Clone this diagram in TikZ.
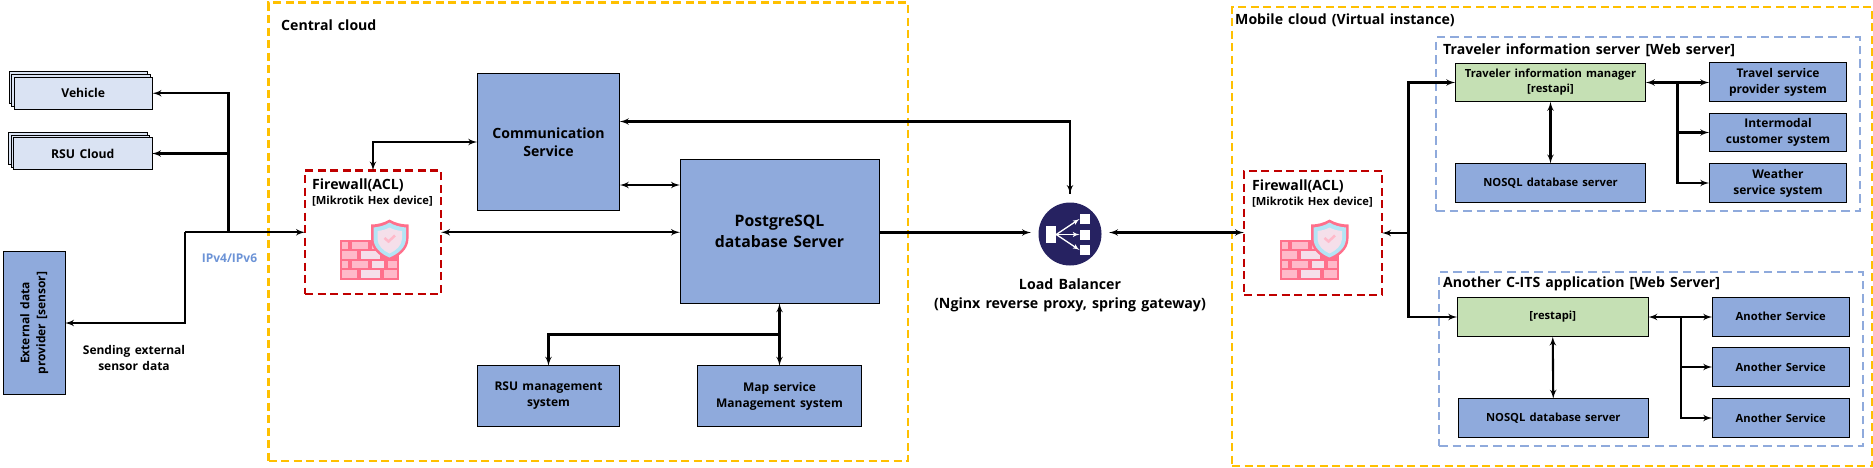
\documentclass[tikz,border=0pt]{standalone}
\usepackage{fontspec}
\setmainfont[WordSpace=1.4]{Open Sans}
\usetikzlibrary{arrows,positioning}
\definecolor{cloudyellow}{HTML}{FFC000}
\definecolor{wallred}{HTML}{C00000}
\definecolor{svcblue}{HTML}{8FAADC}
\definecolor{paleblue}{HTML}{DAE3F3}
\definecolor{apigreen}{HTML}{C5E0B4}
\definecolor{lbnavy}{HTML}{262261}
\definecolor{brickline}{HTML}{FF6F8B}
\definecolor{brickpink}{HTML}{FFB9C9}
\definecolor{bricklight}{HTML}{F5DFEA}
\definecolor{shieldblue}{HTML}{B3E5F5}
\definecolor{ipblue}{HTML}{6C93D6}
\tikzset{
	svcbox/.style={draw,line width=1pt,fill=svcblue,inner sep=0pt,outer sep=0pt,align=center},
	stackbox/.style={svcbox,fill=paleblue,minimum width=138.5pt,minimum height=32pt},
	apibox/.style={svcbox,fill=apigreen},
	cloudbox/.style={draw=cloudyellow,line width=2.4pt,dash pattern=on 8pt off 4.5pt,inner sep=0pt,outer sep=0pt},
	appbox/.style={draw=svcblue,line width=2.4pt,dash pattern=on 8.5pt off 5pt,inner sep=0pt,outer sep=0pt},
	wallbox/.style={draw=wallred,line width=2.4pt,dash pattern=on 8pt off 4.5pt,inner sep=0pt,outer sep=0pt},
	link/.style={line width=2.1pt,>=latex'},
	label/.style={font=\bfseries\fontsize{12}{16}\selectfont,align=center,inner sep=0pt},
	small/.style={font=\bfseries\fontsize{11.2}{14.5}\selectfont},
	big/.style={font=\bfseries\fontsize{14.1}{18.5}\selectfont},
	huge/.style={font=\bfseries\fontsize{15.8}{21}\selectfont},
	itemfont/.style={font=\bfseries\fontsize{11.2}{15}\selectfont},
	stackfont/.style={font=\bfseries\fontsize{12.2}{17}\selectfont},
	lbfont/.style={font=\bfseries\fontsize{14.2}{19}\selectfont},
}
\newcommand{\firewallicon}[2]{%
	\begin{scope}[shift={(#1,#2)}]
		\fill[brickline] (0,0) rectangle (59,40);
		\foreach \xa/\xb/\ya in {2/8/2,12/28/2,32/40/2,2/17/11.5,21/40/11.5,2/8/21,12/28/21,32/44/21,48/57/21,2/17/30.5,21/40/30.5,44/57/30.5}
			\fill[brickpink] (\xa,\ya) rectangle (\xb,\ya+7.5);
		\foreach \xa/\xb/\ya in {21/40/11.5,32/44/21,21/40/30.5}
			\fill[bricklight] (\xa,\ya) rectangle (\xb,\ya+7.5);
		\fill[brickline] (49.5,-20) .. controls (55,-16.5) and (62,-15) .. (68.5,-15) -- (68.5,-1) .. controls (68.5,10) and (59,17) .. (49.5,21) .. controls (40,17) and (31,10) .. (31,-1) -- (31,-15) .. controls (37,-15) and (44,-16.5) .. (49.5,-20) -- cycle;
		\fill[shieldblue] (49.5,-17) .. controls (54,-14) and (60,-12.5) .. (66,-12) -- (66,-1) .. controls (66,8) and (58,14.5) .. (49.5,18) .. controls (41,14.5) and (33.5,8) .. (33.5,-1) -- (33.5,-12) .. controls (39,-12.5) and (45,-14) .. (49.5,-17) -- cycle;
		\fill[bricklight] (49.5,-12) .. controls (53,-10) and (57,-9) .. (62,-8.5) -- (62,-1) .. controls (62,6) and (56,11) .. (49.5,14) .. controls (43,11) and (37.5,6) .. (37.5,-1) -- (37.5,-8.5) .. controls (42,-9) and (46,-10) .. (49.5,-12) -- cycle;
		\draw[brickpink,line width=2.5pt] (44.5,-1.5) -- (48.5,2) -- (55,-4);
	\end{scope}}

\begin{document}
\begin{tikzpicture}[x=1pt,y=-1pt]
	\useasboundingbox (0,0) rectangle (1873,467);
	% clouds
	\node[cloudbox,minimum width=639.5pt,minimum height=458.5pt] at (588.25,231.75) (central) {};
	\node[cloudbox,minimum width=640pt,minimum height=459pt] at (1552,236.5) (mobile) {};
	\node[appbox,minimum width=424pt,minimum height=173.5pt] at (1648,124) (travelgroup) {};
	\node[appbox,minimum width=424pt,minimum height=173.5pt] at (1651,359) (citsgroup) {};
	\node[label,big,anchor=west] at (281,25) (centraltxt) {Central cloud};
	\node[label,big,anchor=west] at (1235,20.5) (mobiletxt) {Mobile cloud (Virtual instance)};
	\node[label,big,anchor=west] at (1443,50.5) (travelgrouptxt) {Traveler information server [Web server]};
	\node[label,big,anchor=west] at (1443,283.5) (citsgrouptxt) {Another C-ITS application [Web Server]};

	% left side
	\node[stackbox] at (78.5,87.5) (vehicleb) {};
	\node[stackbox] at (81,90.5) (vehiclem) {};
	\node[stackbox,label,stackfont] at (83.25,93.25) (vehicle) {Vehicle};
	\node[stackbox] at (78,148) (rsub) {};
	\node[stackbox] at (80.5,151) (rsum) {};
	\node[stackbox,label,stackfont] at (82.75,153.5) (rsu) {RSU Cloud};
	\node[svcbox,label,rotate=90,minimum width=142.5pt,minimum height=61.5pt] at (34.25,323) (external) {External data\\provider [sensor]};
	\node[label] at (134,358) (sendtxt) {Sending external\\sensor data};
	\node[label,text=ipblue] at (229.5,258) (iptxt) {IPv4/IPv6};
	\coordinate (inet) at (228.5,232.25);
	\coordinate (extbend) at (185,232.25);

	% central cloud
	\node[wallbox,minimum width=136pt,minimum height=123.5pt] at (373,232.25) (walla) {};
	\node[label,big,anchor=west] at (312,185) (wallatxt) {Firewall(ACL)};
	\node[label,small,anchor=west] at (312,201) (wallasub) {[Mikrotik Hex device]};
	\firewallicon{340}{239.5}
	\node[svcbox,label,big,minimum width=142.5pt,minimum height=136.5pt] at (548.5,142) (comm) {Communication\\Service};
	\node[svcbox,label,huge,minimum width=199pt,minimum height=143.5pt] at (779.5,231.5) (pgsql) {PostgreSQL\\database Server};
	\node[svcbox,label,minimum width=142.5pt,minimum height=60.5pt] at (548.5,396) (rsumgmt) {RSU management\\system};
	\node[svcbox,label,minimum width=164.5pt,minimum height=60.5pt] at (779.5,396) (mapmgmt) {Map service\\Management system};
	\coordinate (commup) at (619.75,121.5);
	\coordinate (commdb) at (619.75,185);
	\coordinate (dbsplit) at (779.5,334.5);

	% load balancer
	\node[circle,fill=lbnavy,minimum size=63pt,inner sep=0pt,outer sep=0pt] at (1070,234) (lb) {};
	\node[fill=white,minimum width=10.5pt,minimum height=17pt,inner sep=0pt,outer sep=0pt] at (1051,234.5) (lbsrc) {};
	\node[fill=white,minimum size=10pt,inner sep=0pt,outer sep=0pt] at (1084.5,219) (lbdsta) {};
	\node[fill=white,minimum size=10pt,inner sep=0pt,outer sep=0pt] at (1084.5,234.5) (lbdstb) {};
	\node[fill=white,minimum size=10pt,inner sep=0pt,outer sep=0pt] at (1084.5,250) (lbdstc) {};
	\draw[white,line width=1.3pt,-latex'] (lbsrc.east) -- (lbdsta.west);
	\draw[white,line width=1.3pt,-latex'] (lbsrc.east) -- (lbdstb.west);
	\draw[white,line width=1.3pt,-latex'] (lbsrc.east) -- (lbdstc.west);
	\node[label,lbfont] at (1070,295.5) (lbtxt) {Load Balancer\\(Nginx reverse proxy, spring gateway)};
	\coordinate (lbtop) at (1070,194);
	\coordinate (lbwest) at (1031,232.5);
	\coordinate (lbeast) at (1109,232.5);

	% mobile cloud
	\node[wallbox,minimum width=138pt,minimum height=124pt] at (1313,233) (wallb) {};
	\node[label,big,anchor=west] at (1252,186) (wallbtxt) {Firewall(ACL)};
	\node[label,small,anchor=west] at (1252,202) (wallbsub) {[Mikrotik Hex device]};
	\firewallicon{1280}{239.5}
	\coordinate (mobsplit) at (1408.5,233);
	\node[apibox,label,itemfont,minimum width=190.5pt,minimum height=38.5pt] at (1550.5,82.5) (travelapi) {Traveler information manager\\{[restapi]}};
	\node[svcbox,label,itemfont,minimum width=190.5pt,minimum height=39pt] at (1550.5,183) (travelnosql) {NOSQL database server};
	\node[svcbox,label,minimum width=137.5pt,minimum height=39pt] at (1778,82) (travelsvc) {Travel service\\provider system};
	\node[svcbox,label,minimum width=137.5pt,minimum height=38.5pt] at (1778,132.5) (intersvc) {Intermodal\\customer system};
	\node[svcbox,label,minimum width=137.5pt,minimum height=39pt] at (1778,183) (weathersvc) {Weather\\service system};
	\coordinate (travelsplit) at (1677.5,82.5);
	\node[apibox,label,itemfont,minimum width=191pt,minimum height=39pt] at (1552.75,317) (citsapi) {[restapi]};
	\node[svcbox,label,itemfont,minimum width=190pt,minimum height=38.5pt] at (1553.25,418) (citsnosql) {NOSQL database server};
	\node[svcbox,label,itemfont,minimum width=137pt,minimum height=38.5pt] at (1780.75,316.75) (svca) {Another Service};
	\node[svcbox,label,itemfont,minimum width=137pt,minimum height=38.5pt] at (1780.75,367) (svcb) {Another Service};
	\node[svcbox,label,itemfont,minimum width=137pt,minimum height=38.5pt] at (1780.75,418) (svcc) {Another Service};
	\coordinate (citssplit) at (1681,317);

	% connectors
	\draw[link,->] (inet) |- (vehicle.east);
	\draw[link,->] (inet) |- (rsu.east);
	\draw[link,->] (extbend) -- (walla.west);
	\draw[link,->] (extbend) |- (external.south);
	\draw[link,<->] (walla.north) |- (comm.west);
	\draw[link,<->] (walla.east) -- (pgsql.west |- walla.east);
	\draw[link,<-] (commup) -| (lbtop);
	\draw[link,->] (commup -| lbtop) -- (lbtop);
	\draw[link,<->] (commdb) -- (pgsql.west |- commdb);
	\draw[link,->] (pgsql.east |- lbwest) -- (lbwest);
	\draw[link,<->] (lbeast) -- (wallb.west |- lbeast);
	\draw[link,<->] (pgsql.south) -- (mapmgmt.north);
	\draw[link,->] (dbsplit) -| (rsumgmt.north);
	\draw[link,->] (mobsplit) -- (wallb.east);
	\draw[link,->] (mobsplit) |- (travelapi.west);
	\draw[link,->] (mobsplit) |- (citsapi.west);
	\draw[link,<->] (travelapi.east) -- (travelsvc.west |- travelapi.east);
	\draw[link,->] (travelsplit) |- (intersvc.west);
	\draw[link,->] (travelsplit) |- (weathersvc.west);
	\draw[link,<->] (travelapi.south) -- (travelnosql.north);
	\draw[link,<->] (citsapi.east) -- (svca.west |- citsapi.east);
	\draw[link,->] (citssplit) |- (svcb.west);
	\draw[link,->] (citssplit) |- (svcc.west);
	\draw[link,<->] (citsapi.south) -- (citsnosql.north);
\end{tikzpicture}
\end{document}
